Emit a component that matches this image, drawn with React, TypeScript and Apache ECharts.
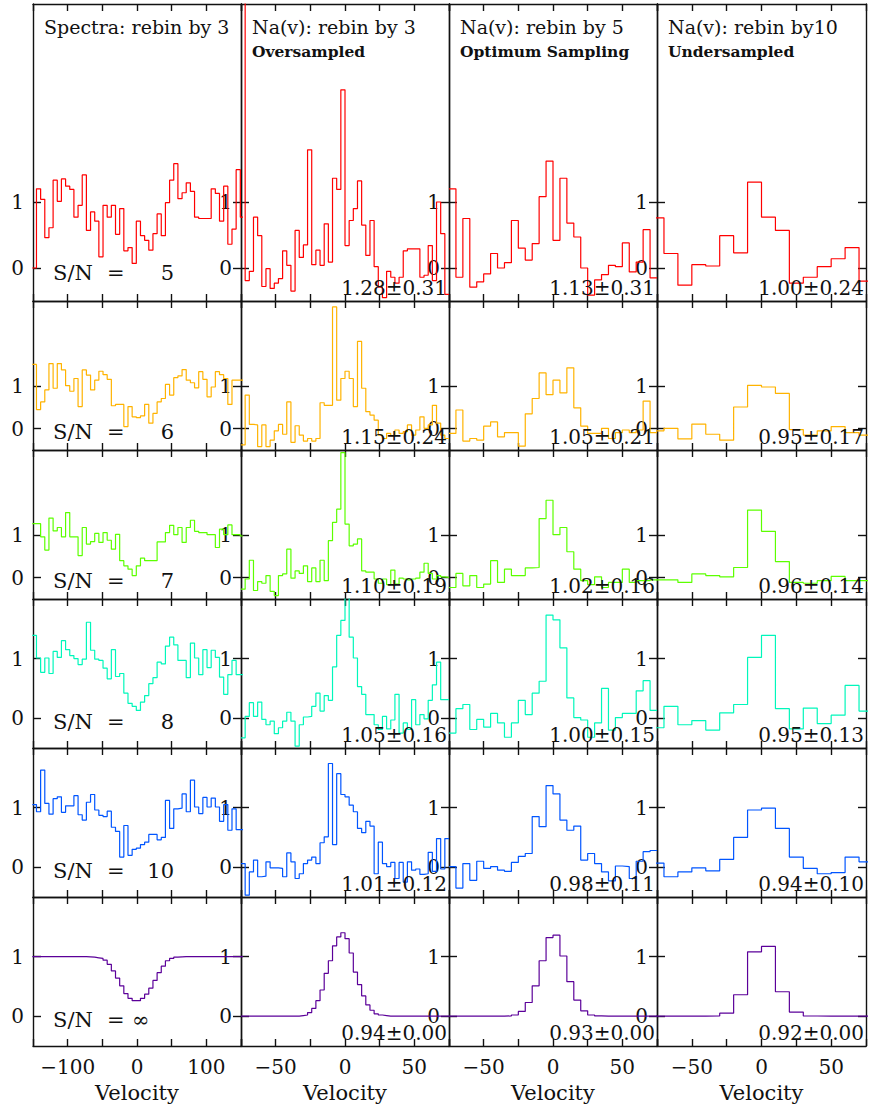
import React, { useEffect, useRef } from "react";
import * as echarts from "echarts";

// ---------------- data ----------------
const snLabels = ["5", "6", "7", "8", "10", "\u221E"];
const columnTitles = ["Spectra: rebin by 3", "Na(v): rebin by 3", "Na(v): rebin by 5", "Na(v): rebin by10"];
const columnSubtitles = ["", "Oversampled", "Optimum Sampling", "Undersampled"];
const navResults3 = ["1.28\u00B10.31", "1.15\u00B10.24", "1.10\u00B10.19", "1.05\u00B10.16", "1.01\u00B10.12", "0.94\u00B10.00"];
const navResults5 = ["1.13\u00B10.31", "1.05\u00B10.21", "1.02\u00B10.16", "1.00\u00B10.15", "0.98\u00B10.11", "0.93\u00B10.00"];
const navResults10 = ["1.00\u00B10.24", "0.95\u00B10.17", "0.96\u00B10.14", "0.95\u00B10.13", "0.94\u00B10.10", "0.92\u00B10.00"];
const spectraTickLabels = [-100, 0, 100];
const navTickLabels = [-50, 0, 50];
const yTickValues = [0, 1];

// bin layout per column: first left edge, width (km/s)
const binStart = [-151, -75, -75, -80];
const binWidth = [6, 3, 5, 10];

// Column 1: normalized spectra (6 km/s bins)
const spec5 = [0.0, 1.20, 1.04, 0.46, 0.61, 1.33, 1.01, 1.35, 1.24, 1.19, 0.77, 0.95, 1.41, 0.57, 0.85, 0.71, 0.17, 0.95, 0.77, 0.95, 0.51, 0.90, 0.26, 0.31, 0.07, 0.71, 0.49, 0.42, 0.27, 0.52, 0.82, 0.49, 0.99, 1.33, 1.58, 1.05, 1.14, 1.29, 1.16, 0.77, 0.75, 0.75, 0.75, 1.20, 1.13, 0.71, 1.24, 0.36, 0.59, 1.49, 0.77];
const spec6 = [1.51, 0.45, 0.63, 0.91, 1.53, 0.95, 1.53, 1.38, 1.01, 0.88, 1.18, 0.52, 1.38, 1.26, 0.91, 1.14, 1.35, 1.27, 1.16, 0.54, 0.57, 0.57, 0.05, 0.52, 0.28, 0.26, 0.30, 0.57, 0.13, 0.36, 0.63, 0.71, 1.04, 0.79, 1.20, 1.24, 1.39, 1.14, 1.08, 0.96, 1.34, 1.16, 0.75, 0.98, 1.34, 1.27, 1.18, 0.57, 1.14, 1.14, 1.14];
const spec7 = [1.27, 1.27, 0.96, 0.65, 1.40, 1.10, 1.18, 0.96, 1.53, 0.96, 0.96, 0.52, 1.18, 0.79, 0.85, 1.04, 0.83, 1.06, 0.88, 0.67, 1.02, 0.40, 0.28, 0.20, 0.05, 0.28, 0.46, 0.40, 0.40, 0.40, 0.84, 0.84, 1.06, 1.23, 1.01, 1.18, 0.83, 1.18, 1.35, 1.09, 1.06, 1.06, 1.01, 1.01, 0.71, 1.14, 1.01, 1.24, 1.01, 1.01, 0.98];
const spec8 = [1.39, 1.01, 0.77, 1.01, 0.75, 1.12, 1.02, 1.30, 1.15, 1.05, 1.00, 0.90, 0.99, 1.61, 1.14, 0.99, 0.97, 0.84, 0.66, 1.15, 0.70, 0.75, 0.42, 0.25, 0.20, 0.13, 0.27, 0.38, 0.58, 0.68, 0.94, 0.91, 1.21, 1.36, 1.23, 0.97, 0.97, 0.68, 1.26, 1.01, 0.73, 1.15, 0.85, 1.14, 1.02, 0.69, 0.40, 0.73, 0.97, 0.73, 0.73];
const spec10 = [1.05, 0.93, 1.63, 1.07, 0.89, 1.15, 1.18, 0.92, 1.03, 1.03, 1.20, 0.88, 0.79, 1.09, 1.22, 0.96, 0.87, 0.85, 0.94, 0.67, 0.60, 0.17, 0.70, 0.20, 0.30, 0.32, 0.38, 0.42, 0.55, 0.55, 0.46, 0.50, 1.12, 0.65, 0.98, 0.99, 1.23, 0.93, 1.46, 1.01, 0.90, 1.17, 1.01, 1.16, 1.01, 0.77, 1.05, 0.62, 0.98, 0.63, 0.63];
const specInf = [1, 1, 1, 1, 1, 1, 1, 1, 1, 1, 1, 1, 1, 0.995, 0.99, 0.98, 0.97, 0.94, 0.87, 0.76, 0.64, 0.51, 0.38, 0.30, 0.26, 0.26, 0.30, 0.37, 0.47, 0.60, 0.73, 0.84, 0.93, 0.97, 0.99, 0.995, 1, 1, 1, 1, 1, 1, 1, 1, 1, 1, 1, 1, 1, 1, 1];

// Column 2: Na(v), 3 km/s bins
const nav3sn5 = [6.0, -0.19, -0.05, 0.77, 0.49, -0.28, -0.01, -0.31, -0.23, -0.16, 0.26, 0.04, -0.35, 0.57, 0.16, 0.35, 1.79, 0.05, 0.27, 0.04, 0.67, 0.09, 1.36, 1.19, 2.70, 0.34, 0.72, 0.90, 1.32, 0.65, 0.19, 0.72, 0.02, -0.29, -0.45, -0.05, -0.14, -0.23, -0.14, 0.26, 0.29, 0.29, 0.29, -0.14, -0.11, 0.34, -0.19, 1.00, 0.52, -0.40];
const nav3sn6 = [-0.38, 0.79, 0.10, 0.09, -0.42, 0.09, -0.42, -0.27, -0.05, 0.10, -0.13, 0.63, -0.32, 0.07, -0.15, -0.29, -0.23, -0.29, -0.23, 0.61, 0.55, 0.55, 2.86, 0.67, 1.18, 1.35, 1.18, 0.52, 2.05, 0.95, 0.40, 0.32, 0.20, -0.15, -0.23, -0.11, -0.16, -0.03, -0.11, -0.07, 0.09, -0.15, -0.03, 0.28, 0.01, 0.09, 0.55, 0.13, -0.15, -0.23];
const nav3sn7 = [-0.27, -0.03, 0.41, -0.30, -0.09, -0.13, 0.05, -0.32, -0.42, 0.05, 0.09, 0.67, -0.01, 0.16, 0.10, 0.28, -0.09, 0.23, -0.09, 0.41, -0.07, 0.87, 1.30, 1.61, 2.94, 1.26, 0.75, 0.79, 0.91, 0.16, 0.13, 0.13, -0.03, -0.13, -0.03, -0.16, 0.18, -0.15, -0.01, -0.03, -0.05, -0.03, -0.01, 0.13, 0.34, 0.10, -0.03, 0.05, 0.02, 0.01];
const nav3sn8 = [-0.33, 0.03, 0.26, 0.03, 0.27, -0.02, -0.11, -0.05, -0.26, -0.16, -0.05, 0.10, -0.05, -0.47, -0.11, 0.02, 0.03, 0.20, 0.42, 0.12, 0.38, 0.30, 0.86, 1.39, 1.64, 2.3, 1.36, 1.01, 0.53, 0.40, 0.06, 0.06, -0.11, -0.19, 0.03, -0.18, -0.03, 0.40, -0.25, -0.08, -0.19, 0.31, -0.11, 0.06, -0.01, 0.30, 0.56, 0.94, 0.31, 0.31];
const nav3sn10 = [0.06, -0.47, -0.08, 0.12, -0.16, -0.15, 0.09, -0.01, -0.01, -0.02, -0.16, 0.24, 0.09, -0.19, -0.11, 0.06, 0.12, 0.17, 0.06, 0.41, 0.51, 1.74, 0.38, 1.57, 1.22, 1.18, 1.04, 0.93, 0.65, 0.58, 0.77, 0.69, -0.11, 0.42, 0.06, 0.01, 0.08, -0.19, 0.08, -0.25, 0.09, -0.05, -0.03, -0.12, -0.11, 0.25, -0.07, 0.48, -0.03, 0.48];
const nav3inf = [0, 0, 0, 0, 0, 0, 0, 0, 0, 0, 0, 0, 0, 0, 0.01, 0.02, 0.06, 0.13, 0.26, 0.44, 0.72, 0.93, 1.18, 1.33, 1.40, 1.30, 1.06, 0.74, 0.53, 0.34, 0.19, 0.10, 0.04, 0.02, 0.01, 0, 0, 0, 0, 0, 0, 0, 0, 0, 0, 0, 0, 0, 0, 0];

// Column 3: Na(v), 5 km/s bins
const nav5sn5 = [1.20, -0.14, 0.75, -0.29, -0.21, -0.09, 0.22, 0.0, 0.08, 0.72, 0.30, 0.12, 0.37, 1.08, 1.62, 0.42, 1.36, 0.68, 0.47, 0.0, -0.41, -0.18, -0.10, 0.04, 0.02, 0.38, -0.06, 0.09, 0.58, -0.15];
const nav5sn6 = [-0.11, 0.44, -0.29, -0.23, -0.27, 0.06, 0.16, -0.19, -0.09, -0.09, -0.41, 0.35, 0.71, 1.31, 0.80, 1.14, 0.84, 1.43, 0.49, 0.06, -0.11, -0.11, 0.01, -0.23, -0.09, -0.03, -0.09, -0.03, 0.65, -0.09];
const nav5sn7 = [-0.23, 0.10, -0.19, 0.05, -0.23, -0.15, 0.40, -0.11, 0.20, 0.05, 0.05, 0.23, 0.24, 1.39, 1.82, 1.01, 1.18, 0.61, 0.20, -0.07, -0.16, 0.02, -0.23, -0.11, -0.11, 0.20, -0.11, -0.07, -0.07, -0.05];
const nav5sn8 = [-0.25, 0.16, 0.23, -0.19, -0.02, -0.15, 0.08, -0.08, -0.32, -0.08, 0.30, 0.06, 0.42, 0.62, 1.73, 1.65, 1.18, 0.34, 0.01, -0.03, -0.32, -0.08, 0.50, -0.20, 0.01, 0.08, 0.08, 0.46, 0.63, 0.13];
const nav5sn10 = [0.01, -0.35, 0.06, -0.22, 0.10, -0.02, 0.01, -0.05, -0.07, 0.08, 0.18, 0.23, 0.85, 0.68, 1.37, 1.23, 0.79, 0.62, 0.69, 0.12, 0.23, 0.06, -0.08, -0.23, 0.02, 0.01, -0.19, 0.10, 0.26, 0.28];
const nav5inf = [0, 0, 0, 0, 0, 0, 0, 0, 0.005, 0.02, 0.08, 0.23, 0.51, 0.93, 1.32, 1.36, 1.01, 0.58, 0.27, 0.09, 0.02, 0.005, 0, 0, 0, 0, 0, 0, 0, 0];

// Column 4: Na(v), 10 km/s bins
const nav10sn5 = [0.76, 0.22, -0.26, 0.05, 0.03, 0.49, 0.23, 1.30, 0.77, 0.57, -0.23, -0.14, 0.02, 0.14, 0.31, -0.20];
const nav10sn6 = [-0.05, 0.01, -0.24, 0.11, -0.13, -0.27, 0.51, 1.02, 0.98, 0.83, -0.02, -0.15, -0.05, 0.05, -0.09, -0.15];
const nav10sn7 = [-0.05, -0.05, -0.11, 0.09, 0.05, 0.02, 0.24, 1.59, 1.09, 0.38, -0.11, -0.13, -0.07, 0.03, -0.07, -0.07];
const nav10sn8 = [-0.16, 0.20, -0.11, -0.04, -0.20, 0.09, 0.23, 1.02, 1.39, 0.16, -0.18, 0.17, -0.09, 0.05, 0.55, 0.12];
const nav10sn10 = [0.07, -0.16, -0.08, -0.01, -0.06, 0.13, 0.50, 0.96, 0.99, 0.65, 0.17, -0.02, -0.11, -0.09, 0.17, 0.09];
const nav10inf = [0, 0, 0, 0, 0.003, 0.05, 0.36, 1.08, 1.17, 0.41, 0.07, 0.003, 0, 0, 0, 0];

const panels = [
  [spec5, nav3sn5, nav5sn5, nav10sn5],
  [spec6, nav3sn6, nav5sn6, nav10sn6],
  [spec7, nav3sn7, nav5sn7, nav10sn7],
  [spec8, nav3sn8, nav5sn8, nav10sn8],
  [spec10, nav3sn10, nav5sn10, nav10sn10],
  [specInf, nav3inf, nav5inf, nav10inf],
];

// ---------------- layout & style ----------------
const W = 870;
const H = 1114;
const colLeft = [33, 241, 449, 657];
const colWidth = [208, 208, 208, 209];
const rowTop = [4, 301, 450, 599, 748, 897];
const rowHeight = [297, 149, 149, 149, 149, 149];
const rowYMax = [4, 3, 3, 2, 2, 2];
const Y_MIN = -0.5;
const colRange = [[-150, 150], [-75, 75], [-75, 75], [-75, 75]];
const colInterval = [50, 25, 25, 25];
const rowColors = ["#ff0000", "#ffb300", "#5cff00", "#00f7bb", "#0055ff", "#5b0099"];
const FONT = "DejaVu Serif";
const frame = { color: "#111111", width: 1.4 };

function py(r: number, v: number) {
  return rowTop[r] + ((rowYMax[r] - v) / (rowYMax[r] - Y_MIN)) * rowHeight[r];
}

function fmtVel(v: number) {
  return v < 0 ? "\u2212" + Math.abs(v) : String(v);
}

function buildOption() {
  const grid: any[] = [];
  const xAxis: any[] = [];
  const yAxis: any[] = [];
  const series: any[] = [];
  const graphic: any[] = [];

  for (let r = 0; r < 6; r++) {
    for (let c = 0; c < 4; c++) {
      const g = r * 4 + c;
      grid.push({ left: colLeft[c], top: rowTop[r], width: colWidth[c], height: rowHeight[r] });
      const [xmin, xmax] = colRange[c];
      const labs = c === 0 ? spectraTickLabels : navTickLabels;
      const common = {
        gridIndex: g,
        type: "value",
        min: xmin,
        max: xmax,
        interval: colInterval[c],
        axisLine: { show: true, onZero: false, lineStyle: frame },
        axisTick: { show: true, inside: true, length: 7, lineStyle: frame },
        splitLine: { show: false },
      };
      xAxis.push({
        ...common,
        position: "bottom",
        axisLabel: {
          show: r === 5,
          fontFamily: FONT,
          fontSize: 20,
          color: "#111",
          margin: 11,
          showMinLabel: true,
          showMaxLabel: true,
          formatter: (v: number) => (labs.indexOf(v) >= 0 ? fmtVel(v) : ""),
        },
        name: r === 5 ? "Velocity" : "",
        nameLocation: "middle",
        nameGap: 36,
        nameTextStyle: { fontFamily: FONT, fontSize: 21, color: "#111" },
      });
      xAxis.push({ ...common, position: "top", axisLabel: { show: false } });

      const ycommon = {
        gridIndex: g,
        type: "value",
        min: Y_MIN,
        max: rowYMax[r],
        axisLine: { show: true, onZero: false, lineStyle: frame },
        axisTick: { show: true, inside: true, length: 8, customValues: yTickValues, lineStyle: frame },
        splitLine: { show: false },
      };
      yAxis.push({
        ...ycommon,
        position: "left",
        axisLabel: {
          show: true,
          customValues: yTickValues,
          fontFamily: FONT,
          fontSize: 20,
          color: "#111",
          margin: 9,
        },
      });
      yAxis.push({ ...ycommon, position: "right", axisLabel: { show: false } });

      const vals = panels[r][c];
      const data = vals.map((v, i) => [binStart[c] + i * binWidth[c], v]);
      data.push([binStart[c] + vals.length * binWidth[c], vals[vals.length - 1]]);
      series.push({
        type: "line",
        xAxisIndex: 2 * g,
        yAxisIndex: 2 * g,
        data,
        step: "end",
        symbol: "none",
        showSymbol: false,
        clip: true,
        silent: true,
        lineStyle: { color: rowColors[r], width: 1.2 },
      });
    }
  }

  // column titles
  for (let c = 0; c < 4; c++) {
    graphic.push({
      type: "text",
      z: 100,
      style: {
        text: columnTitles[c],
        x: colLeft[c] + 11,
        y: 26.5,
        font: `19px "${FONT}"`,
        fill: "#111",
        textAlign: "left",
        textVerticalAlign: "middle",
      },
    });
    if (columnSubtitles[c]) {
      graphic.push({
        type: "text",
        z: 100,
        style: {
          text: columnSubtitles[c],
          x: colLeft[c] + 11,
          y: 51,
          font: `bold 15.5px "${FONT}"`,
          fill: "#111",
          textAlign: "left",
          textVerticalAlign: "middle",
        },
      });
    }
  }

  // S/N labels and Na(v) results
  const results = [navResults3, navResults5, navResults10];
  for (let r = 0; r < 6; r++) {
    const yMid = py(r, -0.07);
    const base = { font: `21px "${FONT}"`, fill: "#111", textVerticalAlign: "middle" };
    graphic.push({ type: "text", z: 100, style: { ...base, text: "S/N", x: 53, y: yMid, textAlign: "left" } });
    graphic.push({ type: "text", z: 100, style: { ...base, text: "=", x: 107, y: yMid, textAlign: "left" } });
    if (snLabels[r] === "\u221E") {
      graphic.push({ type: "text", z: 100, style: { ...base, text: snLabels[r], x: 132, y: yMid, textAlign: "left" } });
    } else {
      graphic.push({ type: "text", z: 100, style: { ...base, text: snLabels[r], x: 174, y: yMid, textAlign: "right" } });
    }
    for (let k = 0; k < 3; k++) {
      const c = k + 1;
      graphic.push({
        type: "text",
        z: 100,
        style: {
          text: results[k][r],
          x: colLeft[c] + colWidth[c] - 2,
          y: rowTop[r] + rowHeight[r] - 13.5,
          font: `20px "${FONT}"`,
          fill: "#111",
          textAlign: "right",
          textVerticalAlign: "middle",
        },
      });
    }
  }

  return {
    animation: false,
    backgroundColor: "#ffffff",
    textStyle: { fontFamily: FONT },
    grid,
    xAxis,
    yAxis,
    series,
    graphic,
  };
}

export default function App() {
  const ref = useRef<HTMLDivElement>(null);
  useEffect(() => {
    if (!ref.current) return;
    const chart = echarts.init(ref.current, undefined, { renderer: "svg" });
    chart.setOption(buildOption() as any);
    return () => chart.dispose();
  }, []);
  return (
    <div
      ref={ref}
      style={{ position: "absolute", left: 0, top: 0, width: W, height: H, background: "#fff" }}
    />
  );
}
